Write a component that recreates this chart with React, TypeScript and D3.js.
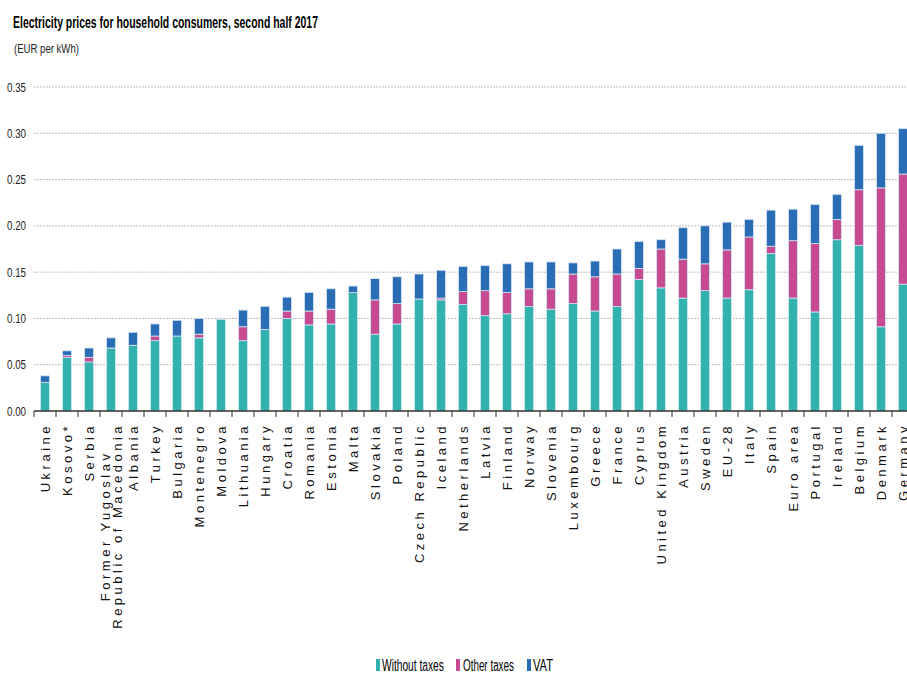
import React, { useEffect, useRef } from 'react';
import * as d3 from 'd3';

const categories = [
  "Ukraine", "Kosovo*", "Serbia", "Former Yugoslav\nRepublic of Macedonia", "Albania",
  "Turkey", "Bulgaria", "Montenegro", "Moldova", "Lithuania", "Hungary", "Croatia",
  "Romania", "Estonia", "Malta", "Slovakia", "Poland", "Czech Republic", "Iceland",
  "Netherlands", "Latvia", "Finland", "Norway", "Slovenia", "Luxembourg", "Greece",
  "France", "Cyprus", "United Kingdom", "Austria", "Sweden", "EU-28", "Italy", "Spain",
  "Euro area", "Portugal", "Ireland", "Belgium", "Denmark", "Germany",
];

const withoutTaxes = [
  0.031, 0.058, 0.053, 0.068, 0.071, 0.076, 0.081, 0.079, 0.099, 0.076, 0.088, 0.100,
  0.093, 0.094, 0.128, 0.083, 0.094, 0.121, 0.120, 0.115, 0.103, 0.105, 0.113, 0.110,
  0.116, 0.108, 0.113, 0.142, 0.133, 0.122, 0.130, 0.122, 0.131, 0.170, 0.122, 0.107,
  0.185, 0.179, 0.091, 0.137,
];

const otherTaxes = [
  0, 0.002, 0.005, 0, 0, 0.005, 0, 0.004, 0, 0.015, 0, 0.008,
  0.015, 0.016, 0, 0.037, 0.022, 0, 0.002, 0.014, 0.027, 0.023, 0.019, 0.022,
  0.032, 0.037, 0.035, 0.012, 0.042, 0.042, 0.029, 0.052, 0.057, 0.008, 0.062, 0.074,
  0.022, 0.060, 0.150, 0.119,
];

const vat = [
  0.007, 0.005, 0.010, 0.011, 0.014, 0.013, 0.017, 0.017, 0, 0.018, 0.025, 0.015,
  0.020, 0.022, 0.007, 0.023, 0.029, 0.027, 0.030, 0.027, 0.027, 0.031, 0.029, 0.029,
  0.012, 0.017, 0.027, 0.029, 0.010, 0.034, 0.041, 0.030, 0.019, 0.039, 0.034, 0.042,
  0.027, 0.048, 0.059, 0.049,
];

const seriesNames = ["Without taxes", "Other taxes", "VAT"];
const seriesColors = ["#33b1ae", "#c64b93", "#2a6db5"];
const yTicks = [0, 0.05, 0.1, 0.15, 0.2, 0.25, 0.3, 0.35];

const FONT = "Liberation Sans, Arial, sans-serif";

// squeeze a text horizontally to a target width (the source uses a narrow face)
function narrowText(
  parent: d3.Selection<any, unknown, null, undefined>,
  str: string, x: number, y: number, width: number, size: number,
  anchor = "start", weight = "normal", fill = "#000"
) {
  const g = parent.append("g");
  const t = g.append("text")
    .attr("font-family", FONT)
    .attr("font-size", size)
    .attr("font-weight", weight)
    .attr("text-anchor", anchor)
    .attr("fill", fill)
    .text(str);
  const natural = (t.node() as SVGTextElement).getComputedTextLength() || width;
  g.attr("transform", `translate(${x},${y}) scale(${width / natural},1)`);
  return t;
}

export default function App() {
  const svgRef = useRef<SVGSVGElement>(null);

  useEffect(() => {
    if (!svgRef.current) return;
    const svg = d3.select(svgRef.current);
    svg.selectAll("*").remove();

    const left = 34, right = 914, top = 87, bottom = 411;

    const x = d3.scaleBand<string>()
      .domain(categories)
      .range([left, right])
      .paddingInner(0.6)
      .paddingOuter(0.3);

    const y = d3.scaleLinear().domain([0, 0.35]).range([bottom, top]);

    const rows = categories.map((c, i) => ({
      cat: c,
      "Without taxes": withoutTaxes[i],
      "Other taxes": otherTaxes[i],
      "VAT": vat[i],
    }));

    const stacked = d3.stack<any>().keys(seriesNames)(rows);

    // Title + unit
    narrowText(svg as any, "Electricity prices for household consumers, second half 2017",
      13, 28, 305, 17, "start", "bold", "#000");
    narrowText(svg as any, "(EUR per kWh)", 14, 53, 65, 13, "start", "normal", "#222");

    // Gridlines
    svg.append("g")
      .selectAll("line")
      .data(yTicks.filter(t => t > 0))
      .join("line")
      .attr("x1", left).attr("x2", right)
      .attr("y1", d => y(d)).attr("y2", d => y(d))
      .attr("stroke", "#bdbdbd")
      .attr("stroke-width", 1)
      .attr("stroke-dasharray", "2,1");

    // Y labels
    const yl = svg.append("g");
    yTicks.forEach(t => {
      narrowText(yl as any, t.toFixed(2), 26, y(t) + 4.5, 19, 13, "end", "normal", "#222");
    });

    // Bars
    const bw = x.bandwidth();
    svg.append("g")
      .selectAll("g")
      .data(stacked)
      .join("g")
      .attr("fill", (_, i) => seriesColors[i])
      .selectAll("rect")
      .data(d => d.filter(s => s[1] - s[0] > 0))
      .join("rect")
      .attr("x", d => x(d.data.cat)!)
      .attr("width", bw)
      .attr("y", d => y(d[1]))
      .attr("height", d => y(d[0]) - y(d[1]))
      .attr("stroke", "#d3e4f0")
      .attr("stroke-width", 0.8);

    // X axis
    const step = x.step();
    const tickXs = categories.map(c => x(c)! + bw / 2 - step / 2);
    tickXs.push(x(categories[categories.length - 1])! + bw / 2 + step / 2);

    svg.append("line")
      .attr("x1", left).attr("x2", right)
      .attr("y1", bottom).attr("y2", bottom)
      .attr("stroke", "#333")
      .attr("stroke-width", 1.5);

    svg.append("g")
      .selectAll("line")
      .data(tickXs)
      .join("line")
      .attr("x1", d => d).attr("x2", d => d)
      .attr("y1", bottom).attr("y2", bottom + 6)
      .attr("stroke", "#333")
      .attr("stroke-width", 1);

    // X labels (rotated)
    const labelY = 423;
    const lineGap = 12;
    categories.forEach(c => {
      const lines = c.split("\n");
      const cx = x(c)! + bw / 2;
      const g = svg.append("g")
        .attr("transform", `translate(${cx},${labelY}) rotate(-90)`);
      const texts = lines.map((ln, i) =>
        g.append("text")
          .attr("y", (i - (lines.length - 1) / 2) * lineGap)
          .attr("dy", "0.35em")
          .attr("text-anchor", "end")
          .attr("font-family", FONT)
          .attr("font-size", 13)
          .attr("letter-spacing", 3.5)
          .attr("fill", "#111")
          .text(ln)
      );
      const lens = texts.map(t => (t.node() as SVGTextElement).getComputedTextLength());
      const maxLen = Math.max(...lens);
      texts.forEach((t, i) => t.attr("x", -(maxLen - lens[i]) / 2));
    });

    // Legend
    const legendItems = [
      { rx: 376, tx: 382, len: 62 },
      { rx: 456, tx: 463, len: 51 },
      { rx: 527, tx: 533, len: 20 },
    ];
    const legend = svg.append("g");
    legendItems.forEach((it, i) => {
      legend.append("rect")
        .attr("x", it.rx).attr("y", 659)
        .attr("width", 4).attr("height", 12)
        .attr("fill", seriesColors[i]);
      narrowText(legend as any, seriesNames[i], it.tx, 671, it.len, 16, "start", "normal", "#000");
    });
  }, []);

  return (
    <svg
      ref={svgRef}
      width={907}
      height={674}
      style={{ position: "absolute", left: 0, top: 0, background: "#fff" }}
    />
  );
}
